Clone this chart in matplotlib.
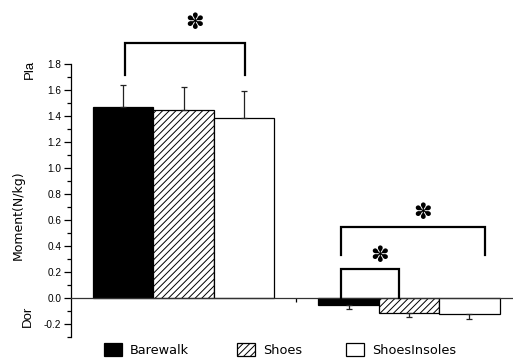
import matplotlib
matplotlib.use("Agg")
import matplotlib.pyplot as plt
import numpy as np

plt.rcParams['font.family'] = ['Liberation Sans', 'DejaVu Sans']
plt.rcParams['hatch.linewidth'] = 0.7

# ---- data ----
groups = ["Pla", "Dor"]
series = ["Barewalk", "Shoes", "ShoesInsoles"]
barewalk = [1.471, -0.056]
shoes = [1.444, -0.120]
shoes_insoles = [1.382, -0.128]
barewalk_err = [0.170, 0.033]
shoes_err = [0.177, 0.031]
shoes_insoles_err = [0.210, 0.038]
yticks = [-0.2, 0.0, 0.2, 0.4, 0.6, 0.8, 1.0, 1.2, 1.4, 1.6, 1.8]
ytick_labels = ["-0.2", "0.0", "0.2", "0.4", "0.6", "0.8", "1.0", "1.2", "1.4", "1.6", "1.8"]

values = [barewalk, shoes, shoes_insoles]
errors = [barewalk_err, shoes_err, shoes_insoles_err]
facecolors = ["black", "white", "white"]
hatches = [None, "/////", None]

W, H = 513, 359
fig = plt.figure(figsize=(W / 100, H / 100), dpi=100)
ax = fig.add_axes([71 / W, (H - 336.6) / H, (W - 71) / W, (336.6 - 64) / H])

x = np.arange(len(groups))
width = 0.268
offsets = [-width, 0, width]
handles = []
for i in range(3):
    v = np.array(values[i])
    e = np.array(errors[i])
    b = ax.bar(x + offsets[i], v, width, color=facecolors[i], edgecolor="black",
               linewidth=0.9, hatch=hatches[i], zorder=2, label=series[i])
    lower = np.where(v < 0, e, 0)
    upper = np.where(v >= 0, e, 0)
    ax.errorbar(x + offsets[i], v, yerr=[lower, upper], fmt="none", ecolor="#222222",
                elinewidth=0.9, capsize=2.2, capthick=0.9, zorder=3)
    handles.append(b)

ax.set_xlim(-0.5, 1.461)
ax.set_ylim(-0.3, 1.8)

for s in ["top", "right"]:
    ax.spines[s].set_visible(False)
ax.spines["bottom"].set_position(("data", 0))
ax.spines["bottom"].set_color("#333333")
ax.spines["bottom"].set_linewidth(0.9)
ax.spines["left"].set_linewidth(0.9)
ax.set_xticks([0.5])
ax.set_xticklabels([])
ax.tick_params(axis="x", direction="out", length=3, width=0.9)
ax.set_yticks(yticks)
ax.set_yticklabels(ytick_labels)
ax.set_yticks(np.arange(-0.3, 1.81, 0.1), minor=True)
ax.tick_params(axis="y", which="major", direction="out", length=5, width=0.9,
               labelsize=7.2, pad=2)
ax.tick_params(axis="y", which="minor", direction="out", length=3, width=0.9)

# significance brackets
def bracket(x0, x1, ylo, yhi):
    ax.plot([x0, x0, x1, x1], [ylo, yhi, yhi, ylo], color="black", lw=1.6,
            clip_on=False, solid_joinstyle="miter", zorder=4)

bracket(-0.261, 0.273, 1.716, 1.965)
bracket(0.697, 0.954, 0.0, 0.219)
bracket(0.697, 1.337, 0.327, 0.542)
star_kw = dict(ha="center", va="center", fontsize=16, family=["DejaVu Sans"],
               clip_on=False)
ax.text(0.047, 2.116, "✽", **star_kw)
ax.text(0.867, 0.321, "✽", **star_kw)
ax.text(1.061, 0.650, "✽", **star_kw)

# axis labels
fig.text(18 / W, 1 - 215 / H, "Moment(N/kg)", rotation=90, ha="center", va="center",
         fontsize=9, family=["DejaVu Sans"])
fig.text(30 / W, 1 - 69 / H, "Pla", rotation=90, ha="center", va="center", fontsize=9.5)
fig.text(28 / W, 1 - 316 / H, "Dor", rotation=90, ha="center", va="center", fontsize=9.5)

# legend entries placed individually
legend_x = [104, 237, 346]
for h, lab, lx in zip(handles, series, legend_x):
    fig.legend([h], [lab], loc="center left", bbox_to_anchor=(lx / W, 1 - 350 / H),
               frameon=False, prop={"family": "DejaVu Sans", "size": 9.3},
               handlelength=1.4, handleheight=1.1,
               handletextpad=0.6, borderpad=0, borderaxespad=0)

fig.savefig("out.png", dpi=100)
